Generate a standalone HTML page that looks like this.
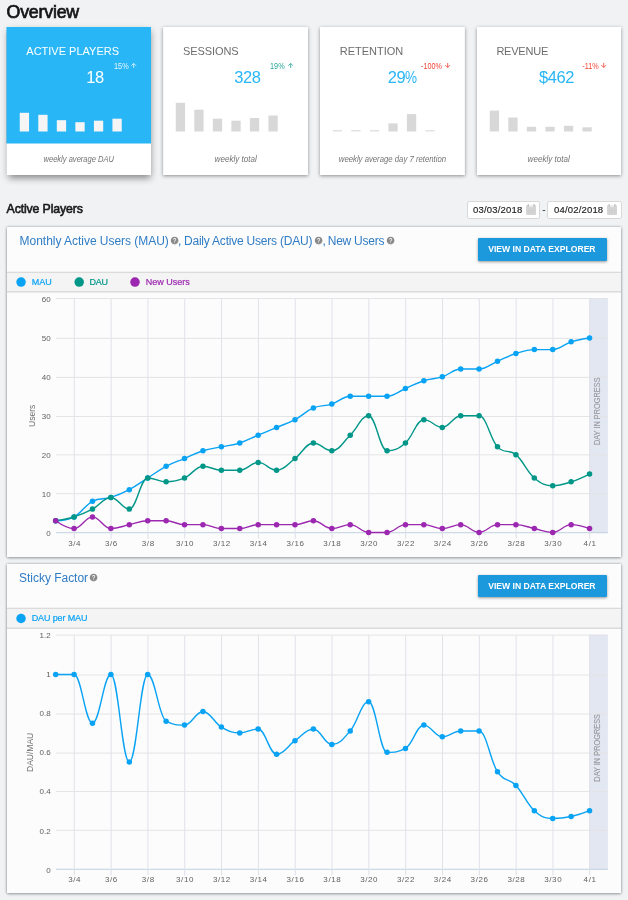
<!DOCTYPE html>
<html><head><meta charset="utf-8"><title>Overview</title>
<style>
*{box-sizing:border-box;margin:0;padding:0}
html,body{width:628px;height:900px;overflow:hidden}
body{background:#f0f2f4;font-family:"Liberation Sans",sans-serif;position:relative;color:#212121}
#wrap{position:absolute;left:0;top:0;width:628px;height:900px;will-change:transform}
h1{position:absolute;left:6.5px;top:1.6px;font-size:17.8px;line-height:20px;font-weight:normal;color:#161616;-webkit-text-stroke:0.7px #161616;white-space:nowrap;letter-spacing:-0.2px}
.card{position:absolute;top:27.3px;width:144.7px;height:147.4px;box-shadow:0 1px 3.5px rgba(0,0,0,.42)}
.card.active{box-shadow:0 3.5px 7px -0.5px rgba(0,0,0,.45)}
.ct{position:absolute;left:19.8px;top:16.8px;font-size:11px;line-height:14px;color:#6d6d6d;white-space:nowrap}
.active .ct{color:#fff}
.cv{position:absolute;right:47.3px;top:39.9px;font-size:16.5px;line-height:20px;color:#29b6f6;white-space:nowrap;text-align:right}
.pc{display:inline-block;transform:scaleX(.82);transform-origin:left center;margin-right:-2.7px;letter-spacing:0}
.active .cv{color:#fff}
.cp{position:absolute;right:14.5px;top:33.9px;font-size:8.3px;line-height:10px;white-space:nowrap;text-align:right}
.cp span{display:inline-block;transform:scaleX(.875);transform-origin:right center}
.cp.up{color:#26a69a} .cp.down{color:#f44336}
.active .cp{color:#e8f7fe}
.arr{display:inline-block;width:5.4px;height:4.9px;margin-left:3.1px;vertical-align:1.5px}
.bars{position:absolute;left:0;top:0;width:144.7px;height:116px}
.cf{position:absolute;left:0;right:0;top:116px;height:31.4px;text-align:center;font-style:italic;font-size:8.3px;line-height:32.6px;color:#737373;white-space:nowrap}
.sec{position:absolute;left:6.6px;top:201px;font-size:12.3px;line-height:16px;font-weight:normal;color:#1a1a1a;-webkit-text-stroke:0.6px #1a1a1a;white-space:nowrap;letter-spacing:-0.13px}
.date{position:absolute;top:201px;width:73.6px;height:17.6px;background:#fff;border:1px solid #d8d8d8;border-radius:2px;font-size:9.5px;line-height:15.8px;padding-left:5.6px;color:#222;-webkit-text-stroke:0.15px #222;white-space:nowrap;letter-spacing:0.18px}
.cal{position:absolute;left:58.4px;top:2.1px;width:10.2px;height:11px}
.dash{position:absolute;left:542.3px;top:202.2px;font-size:10px;line-height:16px;color:#333}
.pbg{position:absolute;left:6.7px;width:614.4px;background:#fcfcfc;box-shadow:0 1px 3px rgba(0,0,0,.28),0 0 2.5px rgba(0,0,0,.3)}
.panel{position:absolute;left:6.4px;width:614.6px;height:329.8px}
.ph{position:absolute;top:6.3px;font-size:12px;line-height:16px;color:#2f7cc5;white-space:nowrap}
.help{position:absolute;width:9.2px;height:9.2px;top:9.6px}
.btn{position:absolute;left:471.2px;top:11.3px;width:129px;height:22.5px;background:#1c98dd;color:#fff;font-weight:bold;font-size:9.6px;line-height:22.7px;text-align:center;box-shadow:0 1px 3px rgba(0,0,0,.4);white-space:nowrap;border-radius:1px}
.btn span{display:inline-block;transform:scaleX(.897)}
.leg{position:absolute;left:0.3px;right:-0.1px;top:45.4px;height:19.8px;border-top:1px solid transparent;border-bottom:1px solid transparent}
svg.under{position:absolute;left:0;top:0;width:628px;height:900px}
.li{position:absolute;top:3.6px;font-size:9px;line-height:11px;white-space:nowrap;-webkit-text-stroke:0.2px currentColor}
.dot{position:absolute;top:4.6px;width:9.4px;height:9.4px;border-radius:50%}
svg.chart{position:absolute;left:0;top:0;width:628px;height:900px;pointer-events:none}
.ax{font-family:"Liberation Sans",sans-serif;font-size:8px;fill:#606060}
.axx{letter-spacing:0.6px}
.ayt{font-size:8.5px;fill:#707070;letter-spacing:0px}
.band{font-family:"Liberation Sans",sans-serif;font-size:8.4px;fill:#9a9aa2;stroke:#9a9aa2;stroke-width:0.15px}
</style></head><body><div id="wrap">
<svg class="under" viewBox="0 0 628 900">
<rect x="6.45" y="27" width="144.55" height="148" fill="#fff"/><rect x="6.45" y="27" width="144.55" height="116.5" fill="#29b6f6"/>
<rect x="163.6" y="27" width="144.4" height="148" fill="#fff"/>
<rect x="320" y="27" width="144.4" height="148" fill="#fff"/>
<rect x="476.7" y="27" width="144.6" height="148" fill="#fff"/>
</svg>
<h1 id="h1">Overview</h1>
<div class="card active" style="left:6.5px">
<div class="ct" id="ct0" style="letter-spacing:0.0px">ACTIVE PLAYERS</div>
<div class="cv" id="cv0" style="letter-spacing:-0.4px">18</div>
<div class="cp up"><span id="cp0">15%</span><svg class="arr" viewBox="0 0 5.4 4.9"><path d="M2.7 4.9V0.7M0.35 2.75L2.7 0.4L5.05 2.75" fill="none" stroke="currentColor" stroke-width="0.85"/></svg></div>
<svg class="bars" viewBox="0 0 144.7 116"><rect x="12.75" y="85.80" width="9.3" height="18.70" fill="#f5f5f5"/><rect x="31.29" y="87.80" width="9.3" height="16.70" fill="#f5f5f5"/><rect x="49.83" y="93.20" width="9.3" height="11.30" fill="#f5f5f5"/><rect x="68.37" y="95.20" width="9.3" height="9.30" fill="#f5f5f5"/><rect x="86.91" y="93.70" width="9.3" height="10.80" fill="#f5f5f5"/><rect x="105.45" y="91.70" width="9.3" height="12.80" fill="#f5f5f5"/></svg>
<div class="cf"><span id="cf0" style="display:inline-block;transform:scaleX(0.91)">weekly average DAU</span></div>
</div>
<div class="card" style="left:163.2px">
<div class="ct" id="ct1" style="letter-spacing:-0.09px">SESSIONS</div>
<div class="cv" id="cv1" style="letter-spacing:-0.4px">328</div>
<div class="cp up"><span id="cp1">19%</span><svg class="arr" viewBox="0 0 5.4 4.9"><path d="M2.7 4.9V0.7M0.35 2.75L2.7 0.4L5.05 2.75" fill="none" stroke="currentColor" stroke-width="0.85"/></svg></div>
<svg class="bars" viewBox="0 0 144.7 116"><rect x="12.75" y="75.80" width="9.3" height="28.70" fill="#d8d8d8"/><rect x="31.29" y="82.70" width="9.3" height="21.80" fill="#d8d8d8"/><rect x="49.83" y="91.70" width="9.3" height="12.80" fill="#d8d8d8"/><rect x="68.37" y="93.70" width="9.3" height="10.80" fill="#d8d8d8"/><rect x="86.91" y="91.00" width="9.3" height="13.50" fill="#d8d8d8"/><rect x="105.45" y="88.50" width="9.3" height="16.00" fill="#d8d8d8"/></svg>
<div class="cf"><span id="cf1" style="display:inline-block;transform:scaleX(0.972)">weekly total</span></div>
</div>
<div class="card" style="left:319.9px">
<div class="ct" id="ct2" style="letter-spacing:0px">RETENTION</div>
<div class="cv" id="cv2" style="letter-spacing:-0.4px">29<span class="pc">%</span></div>
<div class="cp down"><span id="cp2">-100%</span><svg class="arr" viewBox="0 0 5.4 4.9"><path d="M2.7 0V4.2M0.35 2.15L2.7 4.5L5.05 2.15" fill="none" stroke="currentColor" stroke-width="0.85"/></svg></div>
<svg class="bars" viewBox="0 0 144.7 116"><rect x="12.75" y="103.20" width="9.3" height="1.2" fill="#dcdcdc"/><rect x="31.29" y="103.20" width="9.3" height="1.2" fill="#dcdcdc"/><rect x="49.83" y="103.20" width="9.3" height="1.2" fill="#dcdcdc"/><rect x="68.37" y="96.40" width="9.3" height="8.10" fill="#d8d8d8"/><rect x="86.91" y="87.10" width="9.3" height="17.40" fill="#d8d8d8"/><rect x="105.45" y="103.20" width="9.3" height="1.2" fill="#dcdcdc"/></svg>
<div class="cf"><span id="cf2" style="display:inline-block;transform:scaleX(0.934)">weekly average day 7 retention</span></div>
</div>
<div class="card" style="left:476.6px">
<div class="ct" id="ct3" style="letter-spacing:-0.22px">REVENUE</div>
<div class="cv" id="cv3" style="letter-spacing:-0.4px">$462</div>
<div class="cp down"><span id="cp3">-11%</span><svg class="arr" viewBox="0 0 5.4 4.9"><path d="M2.7 0V4.2M0.35 2.15L2.7 4.5L5.05 2.15" fill="none" stroke="currentColor" stroke-width="0.85"/></svg></div>
<svg class="bars" viewBox="0 0 144.7 116"><rect x="12.75" y="83.60" width="9.3" height="20.90" fill="#d8d8d8"/><rect x="31.29" y="90.50" width="9.3" height="14.00" fill="#d8d8d8"/><rect x="49.83" y="99.80" width="9.3" height="4.70" fill="#d8d8d8"/><rect x="68.37" y="99.80" width="9.3" height="4.70" fill="#d8d8d8"/><rect x="86.91" y="98.80" width="9.3" height="5.70" fill="#d8d8d8"/><rect x="105.45" y="100.30" width="9.3" height="4.20" fill="#d8d8d8"/></svg>
<div class="cf"><span id="cf3" style="display:inline-block;transform:scaleX(0.972)">weekly total</span></div>
</div>
<div class="sec" id="sec">Active Players</div>
<div class="date" style="left:466.5px"><span id="d1">03/03/2018</span><svg class="cal" viewBox="0 0 10.2 11"><rect x="0" y="1.2" width="10.2" height="9.8" rx="1" fill="#d6d6d6"/><rect x="3.1" y="1.2" width="4" height="1.7" fill="#eeeeee"/><rect x="1.6" y="0" width="1.4" height="2.9" rx=".6" fill="#c4c4c4"/><rect x="7.2" y="0" width="1.4" height="2.9" rx=".6" fill="#c4c4c4"/><path d="M2.6 4.2V10.4M5.1 4.2V10.4M7.6 4.2V10.4M0.6 6.2H9.6M0.6 8.3H9.6" stroke="#cbcbcb" stroke-width=".5" fill="none"/></svg></div>
<div class="dash">-</div>
<div class="date" style="left:547.4px;width:74.4px"><span id="d2">04/02/2018</span><svg class="cal" viewBox="0 0 10.2 11"><rect x="0" y="1.2" width="10.2" height="9.8" rx="1" fill="#d6d6d6"/><rect x="3.1" y="1.2" width="4" height="1.7" fill="#eeeeee"/><rect x="1.6" y="0" width="1.4" height="2.9" rx=".6" fill="#c4c4c4"/><rect x="7.2" y="0" width="1.4" height="2.9" rx=".6" fill="#c4c4c4"/><path d="M2.6 4.2V10.4M5.1 4.2V10.4M7.6 4.2V10.4M0.6 6.2H9.6M0.6 8.3H9.6" stroke="#cbcbcb" stroke-width=".5" fill="none"/></svg></div>

<div class="pbg" style="top:227px;height:329.8px"></div>
<div class="pbg" style="top:563.5px;height:329.5px"></div>
<svg class="under" viewBox="0 0 628 900">
<rect x="7" y="272.27" width="614" height="19.43" fill="#f4f4f4"/><line x1="7" x2="621" y1="272.27" y2="272.27" stroke="#d0d0d0" stroke-width="0.9"/><line x1="7" x2="621" y1="291.7" y2="291.7" stroke="#dadada" stroke-width="1.4"/>
<rect x="7" y="608.27" width="614" height="19.93" fill="#f4f4f4"/><line x1="7" x2="621" y1="608.27" y2="608.27" stroke="#d0d0d0" stroke-width="0.9"/><line x1="7" x2="621" y1="628.2" y2="628.2" stroke="#dadada" stroke-width="1.4"/>
</svg>
<div class="panel" style="top:226.8px">
<span class="ph" id="ph1" style="left:13.2px;letter-spacing:-0.03px">Monthly Active Users (MAU)</span><svg class="help" style="left:163.4px" viewBox="0 0 24 24"><path d="M12 2C6.48 2 2 6.48 2 12s4.48 10 10 10 10-4.48 10-10S17.52 2 12 2zm1 17h-2v-2h2v2zm2.07-7.75l-.9.92C13.45 12.9 13 13.5 13 15h-2v-.5c0-1.1.45-2.1 1.17-2.83l1.24-1.26c.37-.36.59-.86.59-1.41 0-1.1-.9-2-2-2s-2 .9-2 2H8c0-2.21 1.79-4 4-4s4 1.79 4 4c0 .88-.36 1.68-.93 2.25z" fill="#8a8a8a"/></svg>
<span class="ph" id="pc1" style="left:171.5px">,</span>
<span class="ph" id="ph2" style="left:177.6px;letter-spacing:-0.21px">Daily Active Users (DAU)</span><svg class="help" style="left:307.2px" viewBox="0 0 24 24"><path d="M12 2C6.48 2 2 6.48 2 12s4.48 10 10 10 10-4.48 10-10S17.52 2 12 2zm1 17h-2v-2h2v2zm2.07-7.75l-.9.92C13.45 12.9 13 13.5 13 15h-2v-.5c0-1.1.45-2.1 1.17-2.83l1.24-1.26c.37-.36.59-.86.59-1.41 0-1.1-.9-2-2-2s-2 .9-2 2H8c0-2.21 1.79-4 4-4s4 1.79 4 4c0 .88-.36 1.68-.93 2.25z" fill="#8a8a8a"/></svg>
<span class="ph" id="pc2" style="left:316.2px">,</span>
<span class="ph" id="ph3" style="left:321.4px;letter-spacing:-0.25px">New Users</span><svg class="help" style="left:379.7px" viewBox="0 0 24 24"><path d="M12 2C6.48 2 2 6.48 2 12s4.48 10 10 10 10-4.48 10-10S17.52 2 12 2zm1 17h-2v-2h2v2zm2.07-7.75l-.9.92C13.45 12.9 13 13.5 13 15h-2v-.5c0-1.1.45-2.1 1.17-2.83l1.24-1.26c.37-.36.59-.86.59-1.41 0-1.1-.9-2-2-2s-2 .9-2 2H8c0-2.21 1.79-4 4-4s4 1.79 4 4c0 .88-.36 1.68-.93 2.25z" fill="#8a8a8a"/></svg>
<div class="btn"><span id="b1">VIEW IN DATA EXPLORER</span></div>
<div class="leg">
<span class="li" id="l1" style="left:25px;color:#08a3f4">MAU</span>
<span class="li" id="l2" style="left:82.8px;color:#009688;letter-spacing:-0.3px">DAU</span>
<span class="li" id="l3" style="left:139px;color:#9c27b0">New Users</span>
</div>
</div>

<div class="panel" style="top:563.4px">
<span class="ph" id="ph4" style="left:12.7px;letter-spacing:-0.03px">Sticky Factor</span><svg class="help" style="left:83px" viewBox="0 0 24 24"><path d="M12 2C6.48 2 2 6.48 2 12s4.48 10 10 10 10-4.48 10-10S17.52 2 12 2zm1 17h-2v-2h2v2zm2.07-7.75l-.9.92C13.45 12.9 13 13.5 13 15h-2v-.5c0-1.1.45-2.1 1.17-2.83l1.24-1.26c.37-.36.59-.86.59-1.41 0-1.1-.9-2-2-2s-2 .9-2 2H8c0-2.21 1.79-4 4-4s4 1.79 4 4c0 .88-.36 1.68-.93 2.25z" fill="#8a8a8a"/></svg>
<div class="btn"><span id="b2">VIEW IN DATA EXPLORER</span></div>
<div class="leg">
<span class="li" id="l4" style="left:25px;color:#08a3f4;letter-spacing:-0.12px">DAU per MAU</span>
</div>
</div>

<svg class="chart" viewBox="0 0 628 900">
<circle cx="21.05" cy="282.1" r="4.75" fill="#08a3f4"/><circle cx="79.2" cy="282.1" r="4.75" fill="#009688"/><circle cx="135" cy="282.1" r="4.75" fill="#9c27b0"/>
<circle cx="21.05" cy="618.5" r="4.75" fill="#08a3f4"/>
<rect x="589.20" y="298.10" width="18.70" height="234.80" fill="#e3e7f1"/>
<line x1="55.95" x2="607.90" y1="298.50" y2="298.50" stroke="#e4e4e6" stroke-width="1"/>
<line x1="55.95" x2="607.90" y1="338.40" y2="338.40" stroke="#e4e4e6" stroke-width="1"/>
<line x1="55.95" x2="607.90" y1="377.40" y2="377.40" stroke="#e4e4e6" stroke-width="1"/>
<line x1="55.95" x2="607.90" y1="416.50" y2="416.50" stroke="#e4e4e6" stroke-width="1"/>
<line x1="55.95" x2="607.90" y1="454.85" y2="454.85" stroke="#e4e4e6" stroke-width="1"/>
<line x1="55.95" x2="607.90" y1="493.70" y2="493.70" stroke="#e4e4e6" stroke-width="1"/>
<line x1="55.95" x2="607.90" y1="532.70" y2="532.70" stroke="#c3d1e0" stroke-width="1"/>
<line x1="74.29" x2="74.29" y1="298.50" y2="532.70" stroke="#e0e2e8" stroke-width="1"/>
<line x1="74.29" x2="74.29" y1="532.70" y2="538.70" stroke="#d8e0ea" stroke-width="1"/>
<line x1="111.11" x2="111.11" y1="298.50" y2="532.70" stroke="#e0e2e8" stroke-width="1"/>
<line x1="111.11" x2="111.11" y1="532.70" y2="538.70" stroke="#d8e0ea" stroke-width="1"/>
<line x1="147.93" x2="147.93" y1="298.50" y2="532.70" stroke="#e0e2e8" stroke-width="1"/>
<line x1="147.93" x2="147.93" y1="532.70" y2="538.70" stroke="#d8e0ea" stroke-width="1"/>
<line x1="184.75" x2="184.75" y1="298.50" y2="532.70" stroke="#e0e2e8" stroke-width="1"/>
<line x1="184.75" x2="184.75" y1="532.70" y2="538.70" stroke="#d8e0ea" stroke-width="1"/>
<line x1="221.57" x2="221.57" y1="298.50" y2="532.70" stroke="#e0e2e8" stroke-width="1"/>
<line x1="221.57" x2="221.57" y1="532.70" y2="538.70" stroke="#d8e0ea" stroke-width="1"/>
<line x1="258.39" x2="258.39" y1="298.50" y2="532.70" stroke="#e0e2e8" stroke-width="1"/>
<line x1="258.39" x2="258.39" y1="532.70" y2="538.70" stroke="#d8e0ea" stroke-width="1"/>
<line x1="295.21" x2="295.21" y1="298.50" y2="532.70" stroke="#e0e2e8" stroke-width="1"/>
<line x1="295.21" x2="295.21" y1="532.70" y2="538.70" stroke="#d8e0ea" stroke-width="1"/>
<line x1="332.03" x2="332.03" y1="298.50" y2="532.70" stroke="#e0e2e8" stroke-width="1"/>
<line x1="332.03" x2="332.03" y1="532.70" y2="538.70" stroke="#d8e0ea" stroke-width="1"/>
<line x1="368.85" x2="368.85" y1="298.50" y2="532.70" stroke="#e0e2e8" stroke-width="1"/>
<line x1="368.85" x2="368.85" y1="532.70" y2="538.70" stroke="#d8e0ea" stroke-width="1"/>
<line x1="405.67" x2="405.67" y1="298.50" y2="532.70" stroke="#e0e2e8" stroke-width="1"/>
<line x1="405.67" x2="405.67" y1="532.70" y2="538.70" stroke="#d8e0ea" stroke-width="1"/>
<line x1="442.49" x2="442.49" y1="298.50" y2="532.70" stroke="#e0e2e8" stroke-width="1"/>
<line x1="442.49" x2="442.49" y1="532.70" y2="538.70" stroke="#d8e0ea" stroke-width="1"/>
<line x1="479.31" x2="479.31" y1="298.50" y2="532.70" stroke="#e0e2e8" stroke-width="1"/>
<line x1="479.31" x2="479.31" y1="532.70" y2="538.70" stroke="#d8e0ea" stroke-width="1"/>
<line x1="516.13" x2="516.13" y1="298.50" y2="532.70" stroke="#e0e2e8" stroke-width="1"/>
<line x1="516.13" x2="516.13" y1="532.70" y2="538.70" stroke="#d8e0ea" stroke-width="1"/>
<line x1="552.95" x2="552.95" y1="298.50" y2="532.70" stroke="#e0e2e8" stroke-width="1"/>
<line x1="552.95" x2="552.95" y1="532.70" y2="538.70" stroke="#d8e0ea" stroke-width="1"/>
<line x1="589.77" x2="589.77" y1="298.50" y2="532.70" stroke="#e0e2e8" stroke-width="1"/>
<line x1="589.77" x2="589.77" y1="532.70" y2="538.70" stroke="#d8e0ea" stroke-width="1"/>
<text x="50.6" y="301.80" text-anchor="end" class="ax">60</text>
<text x="50.6" y="340.82" text-anchor="end" class="ax">50</text>
<text x="50.6" y="379.84" text-anchor="end" class="ax">40</text>
<text x="50.6" y="418.86" text-anchor="end" class="ax">30</text>
<text x="50.6" y="457.88" text-anchor="end" class="ax">20</text>
<text x="50.6" y="496.90" text-anchor="end" class="ax">10</text>
<text x="50.6" y="535.92" text-anchor="end" class="ax">0</text>
<text x="74.59" y="545.70" text-anchor="middle" class="ax axx">3/4</text>
<text x="111.41" y="545.70" text-anchor="middle" class="ax axx">3/6</text>
<text x="148.23" y="545.70" text-anchor="middle" class="ax axx">3/8</text>
<text x="185.05" y="545.70" text-anchor="middle" class="ax axx">3/10</text>
<text x="221.87" y="545.70" text-anchor="middle" class="ax axx">3/12</text>
<text x="258.69" y="545.70" text-anchor="middle" class="ax axx">3/14</text>
<text x="295.51" y="545.70" text-anchor="middle" class="ax axx">3/16</text>
<text x="332.33" y="545.70" text-anchor="middle" class="ax axx">3/18</text>
<text x="369.15" y="545.70" text-anchor="middle" class="ax axx">3/20</text>
<text x="405.97" y="545.70" text-anchor="middle" class="ax axx">3/22</text>
<text x="442.79" y="545.70" text-anchor="middle" class="ax axx">3/24</text>
<text x="479.61" y="545.70" text-anchor="middle" class="ax axx">3/26</text>
<text x="516.43" y="545.70" text-anchor="middle" class="ax axx">3/28</text>
<text x="553.25" y="545.70" text-anchor="middle" class="ax axx">3/30</text>
<text x="590.07" y="545.70" text-anchor="middle" class="ax axx">4/1</text>
<text transform="translate(34.6 415.80) rotate(-90)" text-anchor="middle" class="ax ayt">Users</text>
<text transform="translate(600 411.25) rotate(-90)" text-anchor="middle" class="band" textLength="67.7" lengthAdjust="spacingAndGlyphs">DAY IN PROGRESS</text>
<path d="M 55.66 520.77 C 55.66 520.77 66.71 520.77 74.07 516.88 C 81.43 512.99 85.12 505.21 92.48 501.32 C 99.84 497.43 103.53 499.76 110.89 497.43 C 118.25 495.10 121.94 493.54 129.30 489.65 C 136.66 485.76 140.35 482.65 147.71 477.98 C 155.07 473.31 158.76 470.20 166.12 466.31 C 173.48 462.42 177.17 461.64 184.53 458.53 C 191.89 455.42 195.58 453.08 202.94 450.75 C 210.30 448.42 213.99 448.42 221.35 446.86 C 228.71 445.30 232.40 445.30 239.76 442.97 C 247.12 440.64 250.81 438.30 258.17 435.19 C 265.53 432.08 269.22 430.52 276.58 427.41 C 283.94 424.30 287.63 423.52 294.99 419.63 C 302.35 415.74 306.04 411.07 313.40 407.96 C 320.76 404.85 324.45 406.40 331.81 404.07 C 339.17 401.74 342.86 396.29 350.22 396.29 C 357.58 396.29 361.27 396.29 368.63 396.29 C 375.99 396.29 379.68 396.29 387.04 396.29 C 394.40 396.29 398.09 391.62 405.45 388.51 C 412.81 385.40 416.50 383.06 423.86 380.73 C 431.22 378.40 434.91 379.17 442.27 376.84 C 449.63 374.51 453.32 369.06 460.68 369.06 C 468.04 369.06 471.73 369.06 479.09 369.06 C 486.45 369.06 490.14 364.39 497.50 361.28 C 504.86 358.17 508.55 355.83 515.91 353.50 C 523.27 351.17 526.96 349.61 534.32 349.61 C 541.68 349.61 545.37 349.61 552.73 349.61 C 560.09 349.61 563.78 344.16 571.14 341.83 C 578.50 339.50 589.55 337.94 589.55 337.94" fill="none" stroke="#08a3f4" stroke-width="1.4" stroke-linejoin="round" stroke-linecap="round"/>
<circle cx="55.66" cy="520.77" r="2.75" fill="#08a3f4"/>
<circle cx="74.07" cy="516.88" r="2.75" fill="#08a3f4"/>
<circle cx="92.48" cy="501.32" r="2.75" fill="#08a3f4"/>
<circle cx="110.89" cy="497.43" r="2.75" fill="#08a3f4"/>
<circle cx="129.30" cy="489.65" r="2.75" fill="#08a3f4"/>
<circle cx="147.71" cy="477.98" r="2.75" fill="#08a3f4"/>
<circle cx="166.12" cy="466.31" r="2.75" fill="#08a3f4"/>
<circle cx="184.53" cy="458.53" r="2.75" fill="#08a3f4"/>
<circle cx="202.94" cy="450.75" r="2.75" fill="#08a3f4"/>
<circle cx="221.35" cy="446.86" r="2.75" fill="#08a3f4"/>
<circle cx="239.76" cy="442.97" r="2.75" fill="#08a3f4"/>
<circle cx="258.17" cy="435.19" r="2.75" fill="#08a3f4"/>
<circle cx="276.58" cy="427.41" r="2.75" fill="#08a3f4"/>
<circle cx="294.99" cy="419.63" r="2.75" fill="#08a3f4"/>
<circle cx="313.40" cy="407.96" r="2.75" fill="#08a3f4"/>
<circle cx="331.81" cy="404.07" r="2.75" fill="#08a3f4"/>
<circle cx="350.22" cy="396.29" r="2.75" fill="#08a3f4"/>
<circle cx="368.63" cy="396.29" r="2.75" fill="#08a3f4"/>
<circle cx="387.04" cy="396.29" r="2.75" fill="#08a3f4"/>
<circle cx="405.45" cy="388.51" r="2.75" fill="#08a3f4"/>
<circle cx="423.86" cy="380.73" r="2.75" fill="#08a3f4"/>
<circle cx="442.27" cy="376.84" r="2.75" fill="#08a3f4"/>
<circle cx="460.68" cy="369.06" r="2.75" fill="#08a3f4"/>
<circle cx="479.09" cy="369.06" r="2.75" fill="#08a3f4"/>
<circle cx="497.50" cy="361.28" r="2.75" fill="#08a3f4"/>
<circle cx="515.91" cy="353.50" r="2.75" fill="#08a3f4"/>
<circle cx="534.32" cy="349.61" r="2.75" fill="#08a3f4"/>
<circle cx="552.73" cy="349.61" r="2.75" fill="#08a3f4"/>
<circle cx="571.14" cy="341.83" r="2.75" fill="#08a3f4"/>
<circle cx="589.55" cy="337.94" r="2.75" fill="#08a3f4"/>
<path d="M 55.66 520.77 C 55.66 520.77 66.71 519.21 74.07 516.88 C 81.43 514.55 85.12 512.99 92.48 509.10 C 99.84 505.21 103.53 497.43 110.89 497.43 C 118.25 497.43 121.94 509.10 129.30 509.10 C 136.66 509.10 140.35 477.98 147.71 477.98 C 155.07 477.98 158.76 481.87 166.12 481.87 C 173.48 481.87 177.17 481.09 184.53 477.98 C 191.89 474.87 195.58 466.31 202.94 466.31 C 210.30 466.31 213.99 470.20 221.35 470.20 C 228.71 470.20 232.40 470.20 239.76 470.20 C 247.12 470.20 250.81 462.42 258.17 462.42 C 265.53 462.42 269.22 470.20 276.58 470.20 C 283.94 470.20 287.63 463.98 294.99 458.53 C 302.35 453.08 306.04 442.97 313.40 442.97 C 320.76 442.97 324.45 450.75 331.81 450.75 C 339.17 450.75 342.86 442.19 350.22 435.19 C 357.58 428.19 361.27 415.74 368.63 415.74 C 375.99 415.74 379.68 450.75 387.04 450.75 C 394.40 450.75 398.09 449.19 405.45 442.97 C 412.81 436.75 416.50 419.63 423.86 419.63 C 431.22 419.63 434.91 427.41 442.27 427.41 C 449.63 427.41 453.32 415.74 460.68 415.74 C 468.04 415.74 471.73 415.74 479.09 415.74 C 486.45 415.74 490.14 439.08 497.50 446.86 C 504.86 454.64 508.55 448.42 515.91 454.64 C 523.27 460.86 526.96 471.76 534.32 477.98 C 541.68 484.20 545.37 485.76 552.73 485.76 C 560.09 485.76 563.78 484.20 571.14 481.87 C 578.50 479.54 589.55 474.09 589.55 474.09" fill="none" stroke="#009688" stroke-width="1.4" stroke-linejoin="round" stroke-linecap="round"/>
<circle cx="55.66" cy="520.77" r="2.75" fill="#009688"/>
<circle cx="74.07" cy="516.88" r="2.75" fill="#009688"/>
<circle cx="92.48" cy="509.10" r="2.75" fill="#009688"/>
<circle cx="110.89" cy="497.43" r="2.75" fill="#009688"/>
<circle cx="129.30" cy="509.10" r="2.75" fill="#009688"/>
<circle cx="147.71" cy="477.98" r="2.75" fill="#009688"/>
<circle cx="166.12" cy="481.87" r="2.75" fill="#009688"/>
<circle cx="184.53" cy="477.98" r="2.75" fill="#009688"/>
<circle cx="202.94" cy="466.31" r="2.75" fill="#009688"/>
<circle cx="221.35" cy="470.20" r="2.75" fill="#009688"/>
<circle cx="239.76" cy="470.20" r="2.75" fill="#009688"/>
<circle cx="258.17" cy="462.42" r="2.75" fill="#009688"/>
<circle cx="276.58" cy="470.20" r="2.75" fill="#009688"/>
<circle cx="294.99" cy="458.53" r="2.75" fill="#009688"/>
<circle cx="313.40" cy="442.97" r="2.75" fill="#009688"/>
<circle cx="331.81" cy="450.75" r="2.75" fill="#009688"/>
<circle cx="350.22" cy="435.19" r="2.75" fill="#009688"/>
<circle cx="368.63" cy="415.74" r="2.75" fill="#009688"/>
<circle cx="387.04" cy="450.75" r="2.75" fill="#009688"/>
<circle cx="405.45" cy="442.97" r="2.75" fill="#009688"/>
<circle cx="423.86" cy="419.63" r="2.75" fill="#009688"/>
<circle cx="442.27" cy="427.41" r="2.75" fill="#009688"/>
<circle cx="460.68" cy="415.74" r="2.75" fill="#009688"/>
<circle cx="479.09" cy="415.74" r="2.75" fill="#009688"/>
<circle cx="497.50" cy="446.86" r="2.75" fill="#009688"/>
<circle cx="515.91" cy="454.64" r="2.75" fill="#009688"/>
<circle cx="534.32" cy="477.98" r="2.75" fill="#009688"/>
<circle cx="552.73" cy="485.76" r="2.75" fill="#009688"/>
<circle cx="571.14" cy="481.87" r="2.75" fill="#009688"/>
<circle cx="589.55" cy="474.09" r="2.75" fill="#009688"/>
<path d="M 55.66 520.77 C 55.66 520.77 66.71 528.55 74.07 528.55 C 81.43 528.55 85.12 516.88 92.48 516.88 C 99.84 516.88 103.53 528.55 110.89 528.55 C 118.25 528.55 121.94 526.22 129.30 524.66 C 136.66 523.10 140.35 520.77 147.71 520.77 C 155.07 520.77 158.76 520.77 166.12 520.77 C 173.48 520.77 177.17 524.66 184.53 524.66 C 191.89 524.66 195.58 524.66 202.94 524.66 C 210.30 524.66 213.99 528.55 221.35 528.55 C 228.71 528.55 232.40 528.55 239.76 528.55 C 247.12 528.55 250.81 524.66 258.17 524.66 C 265.53 524.66 269.22 524.66 276.58 524.66 C 283.94 524.66 287.63 524.66 294.99 524.66 C 302.35 524.66 306.04 520.77 313.40 520.77 C 320.76 520.77 324.45 528.55 331.81 528.55 C 339.17 528.55 342.86 524.66 350.22 524.66 C 357.58 524.66 361.27 532.44 368.63 532.44 C 375.99 532.44 379.68 532.44 387.04 532.44 C 394.40 532.44 398.09 524.66 405.45 524.66 C 412.81 524.66 416.50 524.66 423.86 524.66 C 431.22 524.66 434.91 528.55 442.27 528.55 C 449.63 528.55 453.32 524.66 460.68 524.66 C 468.04 524.66 471.73 532.44 479.09 532.44 C 486.45 532.44 490.14 524.66 497.50 524.66 C 504.86 524.66 508.55 524.66 515.91 524.66 C 523.27 524.66 526.96 526.99 534.32 528.55 C 541.68 530.11 545.37 532.44 552.73 532.44 C 560.09 532.44 563.78 524.66 571.14 524.66 C 578.50 524.66 589.55 528.55 589.55 528.55" fill="none" stroke="#9c27b0" stroke-width="1.4" stroke-linejoin="round" stroke-linecap="round"/>
<circle cx="55.66" cy="520.77" r="2.75" fill="#9c27b0"/>
<circle cx="74.07" cy="528.55" r="2.75" fill="#9c27b0"/>
<circle cx="92.48" cy="516.88" r="2.75" fill="#9c27b0"/>
<circle cx="110.89" cy="528.55" r="2.75" fill="#9c27b0"/>
<circle cx="129.30" cy="524.66" r="2.75" fill="#9c27b0"/>
<circle cx="147.71" cy="520.77" r="2.75" fill="#9c27b0"/>
<circle cx="166.12" cy="520.77" r="2.75" fill="#9c27b0"/>
<circle cx="184.53" cy="524.66" r="2.75" fill="#9c27b0"/>
<circle cx="202.94" cy="524.66" r="2.75" fill="#9c27b0"/>
<circle cx="221.35" cy="528.55" r="2.75" fill="#9c27b0"/>
<circle cx="239.76" cy="528.55" r="2.75" fill="#9c27b0"/>
<circle cx="258.17" cy="524.66" r="2.75" fill="#9c27b0"/>
<circle cx="276.58" cy="524.66" r="2.75" fill="#9c27b0"/>
<circle cx="294.99" cy="524.66" r="2.75" fill="#9c27b0"/>
<circle cx="313.40" cy="520.77" r="2.75" fill="#9c27b0"/>
<circle cx="331.81" cy="528.55" r="2.75" fill="#9c27b0"/>
<circle cx="350.22" cy="524.66" r="2.75" fill="#9c27b0"/>
<circle cx="368.63" cy="532.44" r="2.75" fill="#9c27b0"/>
<circle cx="387.04" cy="532.44" r="2.75" fill="#9c27b0"/>
<circle cx="405.45" cy="524.66" r="2.75" fill="#9c27b0"/>
<circle cx="423.86" cy="524.66" r="2.75" fill="#9c27b0"/>
<circle cx="442.27" cy="528.55" r="2.75" fill="#9c27b0"/>
<circle cx="460.68" cy="524.66" r="2.75" fill="#9c27b0"/>
<circle cx="479.09" cy="532.44" r="2.75" fill="#9c27b0"/>
<circle cx="497.50" cy="524.66" r="2.75" fill="#9c27b0"/>
<circle cx="515.91" cy="524.66" r="2.75" fill="#9c27b0"/>
<circle cx="534.32" cy="528.55" r="2.75" fill="#9c27b0"/>
<circle cx="552.73" cy="532.44" r="2.75" fill="#9c27b0"/>
<circle cx="571.14" cy="524.66" r="2.75" fill="#9c27b0"/>
<circle cx="589.55" cy="528.55" r="2.75" fill="#9c27b0"/>
<rect x="589.20" y="634.70" width="18.70" height="234.80" fill="#e3e7f1"/>
<line x1="55.95" x2="607.90" y1="635.10" y2="635.10" stroke="#e4e4e6" stroke-width="1"/>
<line x1="55.95" x2="607.90" y1="675.00" y2="675.00" stroke="#e4e4e6" stroke-width="1"/>
<line x1="55.95" x2="607.90" y1="714.00" y2="714.00" stroke="#e4e4e6" stroke-width="1"/>
<line x1="55.95" x2="607.90" y1="753.10" y2="753.10" stroke="#e4e4e6" stroke-width="1"/>
<line x1="55.95" x2="607.90" y1="791.45" y2="791.45" stroke="#e4e4e6" stroke-width="1"/>
<line x1="55.95" x2="607.90" y1="830.30" y2="830.30" stroke="#e4e4e6" stroke-width="1"/>
<line x1="55.95" x2="607.90" y1="869.30" y2="869.30" stroke="#c3d1e0" stroke-width="1"/>
<line x1="74.29" x2="74.29" y1="635.10" y2="869.30" stroke="#e0e2e8" stroke-width="1"/>
<line x1="74.29" x2="74.29" y1="869.30" y2="875.30" stroke="#d8e0ea" stroke-width="1"/>
<line x1="111.11" x2="111.11" y1="635.10" y2="869.30" stroke="#e0e2e8" stroke-width="1"/>
<line x1="111.11" x2="111.11" y1="869.30" y2="875.30" stroke="#d8e0ea" stroke-width="1"/>
<line x1="147.93" x2="147.93" y1="635.10" y2="869.30" stroke="#e0e2e8" stroke-width="1"/>
<line x1="147.93" x2="147.93" y1="869.30" y2="875.30" stroke="#d8e0ea" stroke-width="1"/>
<line x1="184.75" x2="184.75" y1="635.10" y2="869.30" stroke="#e0e2e8" stroke-width="1"/>
<line x1="184.75" x2="184.75" y1="869.30" y2="875.30" stroke="#d8e0ea" stroke-width="1"/>
<line x1="221.57" x2="221.57" y1="635.10" y2="869.30" stroke="#e0e2e8" stroke-width="1"/>
<line x1="221.57" x2="221.57" y1="869.30" y2="875.30" stroke="#d8e0ea" stroke-width="1"/>
<line x1="258.39" x2="258.39" y1="635.10" y2="869.30" stroke="#e0e2e8" stroke-width="1"/>
<line x1="258.39" x2="258.39" y1="869.30" y2="875.30" stroke="#d8e0ea" stroke-width="1"/>
<line x1="295.21" x2="295.21" y1="635.10" y2="869.30" stroke="#e0e2e8" stroke-width="1"/>
<line x1="295.21" x2="295.21" y1="869.30" y2="875.30" stroke="#d8e0ea" stroke-width="1"/>
<line x1="332.03" x2="332.03" y1="635.10" y2="869.30" stroke="#e0e2e8" stroke-width="1"/>
<line x1="332.03" x2="332.03" y1="869.30" y2="875.30" stroke="#d8e0ea" stroke-width="1"/>
<line x1="368.85" x2="368.85" y1="635.10" y2="869.30" stroke="#e0e2e8" stroke-width="1"/>
<line x1="368.85" x2="368.85" y1="869.30" y2="875.30" stroke="#d8e0ea" stroke-width="1"/>
<line x1="405.67" x2="405.67" y1="635.10" y2="869.30" stroke="#e0e2e8" stroke-width="1"/>
<line x1="405.67" x2="405.67" y1="869.30" y2="875.30" stroke="#d8e0ea" stroke-width="1"/>
<line x1="442.49" x2="442.49" y1="635.10" y2="869.30" stroke="#e0e2e8" stroke-width="1"/>
<line x1="442.49" x2="442.49" y1="869.30" y2="875.30" stroke="#d8e0ea" stroke-width="1"/>
<line x1="479.31" x2="479.31" y1="635.10" y2="869.30" stroke="#e0e2e8" stroke-width="1"/>
<line x1="479.31" x2="479.31" y1="869.30" y2="875.30" stroke="#d8e0ea" stroke-width="1"/>
<line x1="516.13" x2="516.13" y1="635.10" y2="869.30" stroke="#e0e2e8" stroke-width="1"/>
<line x1="516.13" x2="516.13" y1="869.30" y2="875.30" stroke="#d8e0ea" stroke-width="1"/>
<line x1="552.95" x2="552.95" y1="635.10" y2="869.30" stroke="#e0e2e8" stroke-width="1"/>
<line x1="552.95" x2="552.95" y1="869.30" y2="875.30" stroke="#d8e0ea" stroke-width="1"/>
<line x1="589.77" x2="589.77" y1="635.10" y2="869.30" stroke="#e0e2e8" stroke-width="1"/>
<line x1="589.77" x2="589.77" y1="869.30" y2="875.30" stroke="#d8e0ea" stroke-width="1"/>
<text x="50.6" y="638.40" text-anchor="end" class="ax">1.2</text>
<text x="50.6" y="677.42" text-anchor="end" class="ax">1</text>
<text x="50.6" y="716.44" text-anchor="end" class="ax">0.8</text>
<text x="50.6" y="755.46" text-anchor="end" class="ax">0.6</text>
<text x="50.6" y="794.48" text-anchor="end" class="ax">0.4</text>
<text x="50.6" y="833.50" text-anchor="end" class="ax">0.2</text>
<text x="50.6" y="872.52" text-anchor="end" class="ax">0</text>
<text x="74.59" y="882.30" text-anchor="middle" class="ax axx">3/4</text>
<text x="111.41" y="882.30" text-anchor="middle" class="ax axx">3/6</text>
<text x="148.23" y="882.30" text-anchor="middle" class="ax axx">3/8</text>
<text x="185.05" y="882.30" text-anchor="middle" class="ax axx">3/10</text>
<text x="221.87" y="882.30" text-anchor="middle" class="ax axx">3/12</text>
<text x="258.69" y="882.30" text-anchor="middle" class="ax axx">3/14</text>
<text x="295.51" y="882.30" text-anchor="middle" class="ax axx">3/16</text>
<text x="332.33" y="882.30" text-anchor="middle" class="ax axx">3/18</text>
<text x="369.15" y="882.30" text-anchor="middle" class="ax axx">3/20</text>
<text x="405.97" y="882.30" text-anchor="middle" class="ax axx">3/22</text>
<text x="442.79" y="882.30" text-anchor="middle" class="ax axx">3/24</text>
<text x="479.61" y="882.30" text-anchor="middle" class="ax axx">3/26</text>
<text x="516.43" y="882.30" text-anchor="middle" class="ax axx">3/28</text>
<text x="553.25" y="882.30" text-anchor="middle" class="ax axx">3/30</text>
<text x="590.07" y="882.30" text-anchor="middle" class="ax axx">4/1</text>
<text transform="translate(32.9 752.40) rotate(-90)" text-anchor="middle" class="ax ayt">DAU/MAU</text>
<text transform="translate(600 747.85) rotate(-90)" text-anchor="middle" class="band" textLength="67.7" lengthAdjust="spacingAndGlyphs">DAY IN PROGRESS</text>
<path d="M 55.66 674.54 C 55.66 674.54 66.71 674.54 74.07 674.54 C 81.43 674.54 85.12 723.16 92.48 723.16 C 99.84 723.16 103.53 674.54 110.89 674.54 C 118.25 674.54 121.94 762.06 129.30 762.06 C 136.66 762.06 140.35 674.54 147.71 674.54 C 155.07 674.54 158.76 717.33 166.12 721.22 C 173.48 725.11 177.17 725.11 184.53 725.11 C 191.89 725.11 195.58 711.49 202.94 711.49 C 210.30 711.49 213.99 722.78 221.35 727.05 C 228.71 731.33 232.40 732.89 239.76 732.89 C 247.12 732.89 250.81 729.00 258.17 729.00 C 265.53 729.00 269.22 754.28 276.58 754.28 C 283.94 754.28 287.63 745.73 294.99 740.67 C 302.35 735.61 306.04 729.00 313.40 729.00 C 320.76 729.00 324.45 744.56 331.81 744.56 C 339.17 744.56 342.86 739.50 350.22 730.94 C 357.58 722.39 361.27 701.77 368.63 701.77 C 375.99 701.77 379.68 752.34 387.04 752.34 C 394.40 752.34 398.09 752.34 405.45 748.45 C 412.81 744.56 416.50 725.11 423.86 725.11 C 431.22 725.11 434.91 736.78 442.27 736.78 C 449.63 736.78 453.32 730.94 460.68 730.94 C 468.04 730.94 471.73 730.94 479.09 730.94 C 486.45 730.94 490.14 760.90 497.50 771.79 C 504.86 782.68 508.55 777.62 515.91 785.40 C 523.27 793.18 526.96 804.08 534.32 810.69 C 541.68 817.30 545.37 818.47 552.73 818.47 C 560.09 818.47 563.78 818.08 571.14 816.52 C 578.50 814.97 589.55 810.69 589.55 810.69" fill="none" stroke="#08a3f4" stroke-width="1.4" stroke-linejoin="round" stroke-linecap="round"/>
<circle cx="55.66" cy="674.54" r="2.75" fill="#08a3f4"/>
<circle cx="74.07" cy="674.54" r="2.75" fill="#08a3f4"/>
<circle cx="92.48" cy="723.16" r="2.75" fill="#08a3f4"/>
<circle cx="110.89" cy="674.54" r="2.75" fill="#08a3f4"/>
<circle cx="129.30" cy="762.06" r="2.75" fill="#08a3f4"/>
<circle cx="147.71" cy="674.54" r="2.75" fill="#08a3f4"/>
<circle cx="166.12" cy="721.22" r="2.75" fill="#08a3f4"/>
<circle cx="184.53" cy="725.11" r="2.75" fill="#08a3f4"/>
<circle cx="202.94" cy="711.49" r="2.75" fill="#08a3f4"/>
<circle cx="221.35" cy="727.05" r="2.75" fill="#08a3f4"/>
<circle cx="239.76" cy="732.89" r="2.75" fill="#08a3f4"/>
<circle cx="258.17" cy="729.00" r="2.75" fill="#08a3f4"/>
<circle cx="276.58" cy="754.28" r="2.75" fill="#08a3f4"/>
<circle cx="294.99" cy="740.67" r="2.75" fill="#08a3f4"/>
<circle cx="313.40" cy="729.00" r="2.75" fill="#08a3f4"/>
<circle cx="331.81" cy="744.56" r="2.75" fill="#08a3f4"/>
<circle cx="350.22" cy="730.94" r="2.75" fill="#08a3f4"/>
<circle cx="368.63" cy="701.77" r="2.75" fill="#08a3f4"/>
<circle cx="387.04" cy="752.34" r="2.75" fill="#08a3f4"/>
<circle cx="405.45" cy="748.45" r="2.75" fill="#08a3f4"/>
<circle cx="423.86" cy="725.11" r="2.75" fill="#08a3f4"/>
<circle cx="442.27" cy="736.78" r="2.75" fill="#08a3f4"/>
<circle cx="460.68" cy="730.94" r="2.75" fill="#08a3f4"/>
<circle cx="479.09" cy="730.94" r="2.75" fill="#08a3f4"/>
<circle cx="497.50" cy="771.79" r="2.75" fill="#08a3f4"/>
<circle cx="515.91" cy="785.40" r="2.75" fill="#08a3f4"/>
<circle cx="534.32" cy="810.69" r="2.75" fill="#08a3f4"/>
<circle cx="552.73" cy="818.47" r="2.75" fill="#08a3f4"/>
<circle cx="571.14" cy="816.52" r="2.75" fill="#08a3f4"/>
<circle cx="589.55" cy="810.69" r="2.75" fill="#08a3f4"/>
</svg>
</div></body></html>
